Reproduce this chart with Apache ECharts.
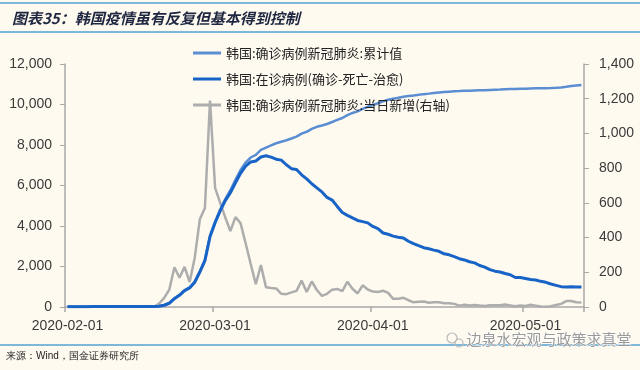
<!DOCTYPE html>
<html>
<head>
<meta charset="utf-8">
<script src="https://cdn.jsdelivr.net/npm/echarts@6/dist/echarts.min.js"></script>
<style>
html,body{margin:0;padding:0;background:#FEFAF0;}
#chart{width:640px;height:370px;}
</style>
</head>
<body>
<div id="chart"></div>
<script>
// ---- data (daily, 2020-02-01 .. 2020-05-12) ----
const startDate = '2020-02-01';
const titleText = '图表35：韩国疫情虽有反复但基本得到控制';
const sourceText = '来源：Wind，国金证券研究所';
const watermarkText = '边泉水宏观与政策求真堂';
const seriesNames = ['韩国:确诊病例新冠肺炎:累计值', '韩国:在诊病例(确诊-死亡-治愈)', '韩国:确诊病例新冠肺炎:当日新增(右轴)'];

const cumulative = [
  12, 15, 15, 16, 18, 23, 24, 24, 27, 27, 28, 28, 28, 28, 28, 29, 30, 31, 51, 104,
  204, 433, 602, 833, 977, 1261, 1766, 2337, 3526, 4212, 4812, 5328, 5766, 6284, 6767, 7134, 7382, 7513, 7755, 7869,
  7979, 8086, 8162, 8236, 8320, 8413, 8565, 8652, 8799, 8897, 8961, 9037, 9137, 9241, 9332, 9478, 9583, 9661, 9786, 9887,
  9976, 10062, 10156, 10237, 10284, 10331, 10384, 10423, 10450, 10480, 10512, 10537, 10564, 10591, 10613, 10635, 10653, 10661, 10674, 10683,
  10694, 10702, 10708, 10718, 10728, 10738, 10752, 10761, 10765, 10774, 10780, 10793, 10801, 10804, 10806, 10810, 10822, 10840, 10874, 10909,
  10936, 10962
];
const active = [
  11, 14, 14, 15, 16, 20, 21, 20, 23, 23, 24, 21, 21, 21, 19, 19, 20, 21, 41, 87,
  184, 409, 578, 804, 944, 1223, 1727, 2293, 3470, 4159, 4750, 5255, 5643, 6134, 6605, 6954, 7165, 7212, 7407, 7470,
  7402, 7300, 7253, 7024, 6832, 6789, 6527, 6325, 6085, 5884, 5684, 5410, 5281, 4966, 4665, 4523, 4398, 4275, 4216, 4155,
  3979, 3867, 3654, 3591, 3500, 3445, 3408, 3246, 3125, 3026, 2930, 2873, 2808, 2750, 2627, 2576, 2484, 2385, 2324, 2233,
  2179, 2051, 1967, 1843, 1769, 1731, 1654, 1593, 1459, 1454, 1407, 1360, 1332, 1267, 1218, 1135, 1070, 1005, 990, 995,
  985, 985
];
const dailyNew = [
  1, 3, 0, 1, 2, 5, 1, 0, 3, 0, 1, 0, 0, 0, 0, 1, 1, 1, 20, 53,
  100, 229, 169, 231, 144, 284, 505, 571, 1189, 686, 600, 516, 438, 518, 483, 367, 248, 131, 242, 114,
  110, 107, 76, 74, 84, 93, 152, 87, 147, 98, 64, 76, 100, 104, 91, 146, 105, 78, 125, 101,
  89, 86, 94, 81, 47, 47, 53, 39, 27, 30, 32, 25, 27, 27, 22, 22, 18, 8, 13, 9,
  11, 8, 6, 10, 10, 10, 14, 9, 4, 9, 6, 13, 8, 3, 2, 4, 12, 18, 34, 35,
  27, 26
];

// categories built from the start date, one per data point
const categories = [];
(function () {
  const d0 = new Date(startDate + 'T00:00:00Z');
  for (let i = 0; i < cumulative.length; i++) {
    const d = new Date(d0.getTime() + i * 86400000);
    categories.push(d.toISOString().slice(0, 10));
  }
})();

const isMonthStart = (idx) => categories[idx] && categories[idx].slice(8) === '01';
const fmt = (v) => Number(v).toLocaleString('en-US');

const chart = echarts.init(document.getElementById('chart'), null, {renderer: 'canvas'});
const axisGray = '#A8A8A8';
const labelStyle = {color: '#3A3A3A', fontSize: 14, fontFamily: 'Liberation Sans, Arial, sans-serif'};

chart.setOption({
  backgroundColor: '#FEFAF0',
  animation: false,
  title: {
    text: titleText,
    left: 7, top: 6,
    textStyle: {fontSize: 15, fontStyle: 'italic', fontWeight: 'bold', color: '#1E2640', fontFamily: 'Noto Sans CJK SC'}
  },
  graphic: [
    {type: 'rect', shape: {x: 0, y: 2, width: 640, height: 2}, style: {fill: '#7DB7DA'}},
    {type: 'rect', shape: {x: 0, y: 31, width: 640, height: 2}, style: {fill: '#7DB7DA'}},
    {type: 'rect', shape: {x: 0, y: 344, width: 640, height: 2}, style: {fill: '#7DB7DA'}},
    {type: 'text', left: 6, top: 351, style: {text: sourceText, fontSize: 10, fill: '#222', font: '10px "Noto Sans CJK SC"'}},
    {type: 'text', left: 466, top: 331, style: {text: watermarkText, fill: '#9A9A9A', font: '15px "Noto Sans CJK SC"', stroke: '#FFFFFF', lineWidth: 1}},
    {type: 'circle', shape: {cx: 452, cy: 338, r: 5}, style: {fill: 'none', stroke: '#B8B8B8', lineWidth: 1.2}},
    {type: 'circle', shape: {cx: 459, cy: 343, r: 4}, style: {fill: 'none', stroke: '#B8B8B8', lineWidth: 1.2}}
  ],
  legend: {
    orient: 'vertical',
    left: 188, top: 40,
    itemWidth: 28, itemHeight: 3, itemGap: 10,
    icon: 'rect',
    textStyle: {fontSize: 13, color: '#222', fontFamily: 'Noto Sans CJK SC', lineHeight: 16},
    data: seriesNames
  },
  grid: {left: 65, right: 56, top: 64, bottom: 63, containLabel: false},
  xAxis: {
    type: 'category',
    data: categories,
    boundaryGap: true,
    axisLine: {lineStyle: {color: axisGray, width: 1.5}},
    axisTick: {show: true, length: 5, interval: (idx) => isMonthStart(idx), lineStyle: {color: axisGray, width: 1.5}},
    axisLabel: Object.assign({interval: (idx) => isMonthStart(idx), margin: 12}, labelStyle),
    splitLine: {show: false}
  },
  yAxis: [
    {
      type: 'value', min: 0, max: 12000, interval: 2000,
      axisLine: {show: true, lineStyle: {color: axisGray, width: 1.5}},
      axisTick: {show: true, length: 5, lineStyle: {color: axisGray}},
      axisLabel: Object.assign({margin: 13, formatter: fmt}, labelStyle),
      splitLine: {show: false}
    },
    {
      type: 'value', min: 0, max: 1400, interval: 200, position: 'right',
      axisLine: {show: true, lineStyle: {color: axisGray, width: 1.5}},
      axisTick: {show: true, length: 5, lineStyle: {color: axisGray}},
      axisLabel: Object.assign({margin: 15, formatter: fmt}, labelStyle),
      splitLine: {show: false}
    }
  ],
  series: [
    {
      name: seriesNames[2], type: 'line', yAxisIndex: 1, data: dailyNew,
      symbol: 'none', z: 2,
      lineStyle: {color: '#ADADAD', width: 2.5}, itemStyle: {color: '#ADADAD'}
    },
    {
      name: seriesNames[0], type: 'line', yAxisIndex: 0, data: cumulative,
      symbol: 'none', z: 3,
      lineStyle: {color: '#5B8DD3', width: 2.5}, itemStyle: {color: '#5B8DD3'}
    },
    {
      name: seriesNames[1], type: 'line', yAxisIndex: 0, data: active,
      symbol: 'none', z: 4,
      lineStyle: {color: '#1763C6', width: 3}, itemStyle: {color: '#1763C6'}
    }
  ]
});
</script>
</body>
</html>
